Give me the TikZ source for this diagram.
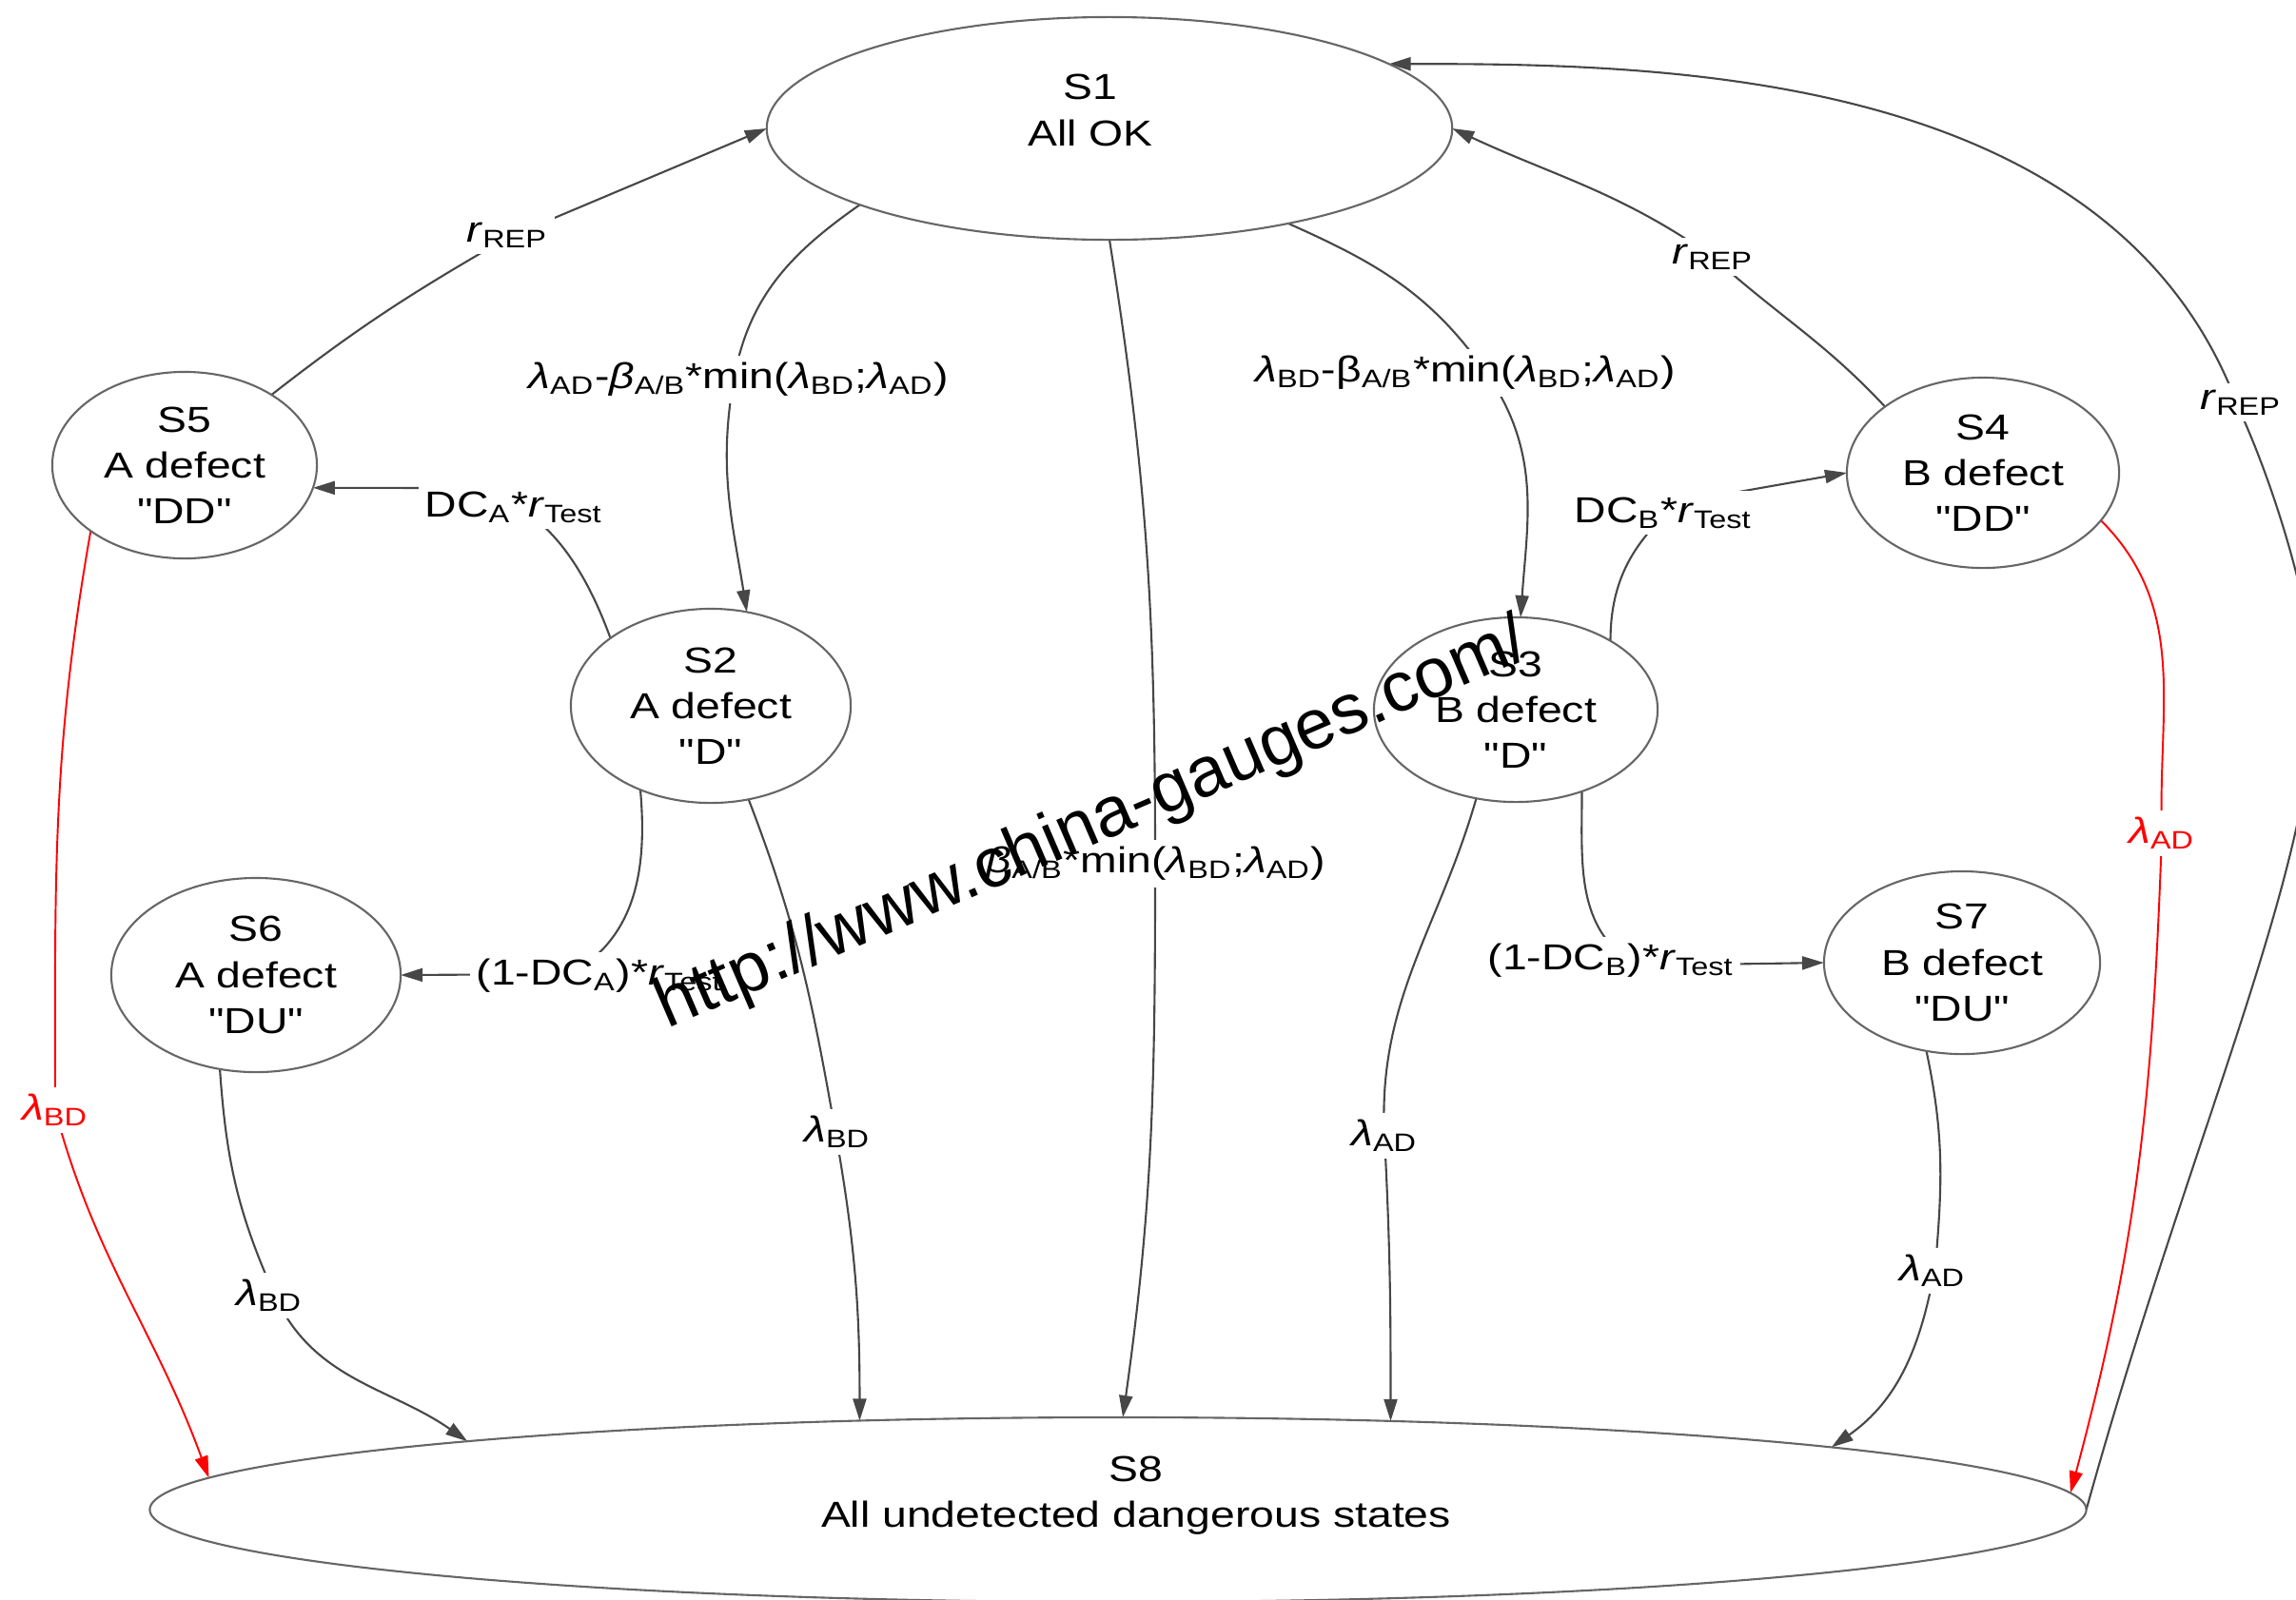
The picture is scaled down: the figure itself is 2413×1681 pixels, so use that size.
\documentclass[tikz,border=0pt]{standalone}
\usepackage{fontspec}
\setmainfont{Liberation Sans}[FakeStretch=1.22]
\newfontfamily\qfont{Liberation Sans}[FakeStretch=1.22, Ligatures=TeXOff]
\newfontfamily\wmfont{Liberation Sans}
\usetikzlibrary{arrows.meta,shapes.geometric}
\pgfdeclarelayer{edgelayer}
\pgfsetlayers{edgelayer,main}
\newcommand{\lm}{\textit{λ}}
\newcommand{\rt}{\textit{r}}
\newcommand{\sbx}[1]{\textsubscript{#1}}
\newcommand{\dq}{{\qfont\symbol{34}}}
\begin{document}
\begin{tikzpicture}[x=0.01cm,y=0.01cm,
 every node/.style={font=\fontsize{10.8}{13.7}\selectfont, inner sep=0pt, outer sep=0pt},
 stnode/.style={ellipse, draw=black!60, line width=0.6pt, align=center},
 lab/.style={fill=white, inner sep=2pt},
 conn/.style={draw=black!72, line width=0.6pt, -{Triangle[length=0.23cm,width=0.14cm]}},
 rconn/.style={draw=red, line width=0.55pt, -{Triangle[length=0.23cm,width=0.14cm]}},
]
\useasboundingbox (0,0) rectangle (2413,-1681);
\clip (0,0) rectangle (2413,-1681);

% states
\node[stnode, minimum width=7.2cm, minimum height=2.34cm] (s1) at (1166,-135) {};
\node[align=center] (s1t) at (1146,-116) {S1\\All OK};
\node[stnode, minimum width=2.94cm, minimum height=2.04cm] (s2) at (747,-742) {S2\\A defect\\\dq D\dq};
\node[stnode, minimum width=2.98cm, minimum height=1.94cm] (s3) at (1593,-746) {S3\\B defect\\\dq D\dq};
\node[stnode, minimum width=2.86cm, minimum height=2.00cm] (s4) at (2084,-497) {S4\\B defect\\\dq DD\dq};
\node[stnode, minimum width=2.78cm, minimum height=1.96cm] (s5) at (194,-489) {S5\\A defect\\\dq DD\dq};
\node[stnode, minimum width=3.04cm, minimum height=2.04cm] (s6) at (269,-1025) {S6\\A defect\\\dq DU\dq};
\node[stnode, minimum width=2.90cm, minimum height=1.92cm] (s7) at (2062,-1012) {S7\\B defect\\\dq DU\dq};
\node[stnode, minimum width=20.34cm, minimum height=1.94cm] (s8) at (1175,-1587) {};
\node[align=center] (s8t) at (1194,-1572) {S8\\All undetected dangerous states};

% connectors (behind the labels)
\begin{pgfonlayer}{edgelayer}
\clip (0,0) rectangle (2413,-1681);
\coordinate (v1) at (533,-250);
\coordinate (v2) at (771,-400);
\coordinate (v3) at (1214,-908);
\coordinate (v4) at (1562,-392);
\coordinate (v5) at (1800,-270);
\coordinate (v6) at (2353,-430);
\coordinate (v7) at (470,-513);
\coordinate (v8) at (600,-1024);
\coordinate (v9) at (878,-1190);
\coordinate (v10) at (288,-1360);
\coordinate (v11) at (58,-1167);
\coordinate (v12) at (1720,-1015);
\coordinate (v13) at (1455,-1195);
\coordinate (v14) at (2034,-1330);
\coordinate (v15) at (1765,-528);
\coordinate (v16) at (2272,-876);
\draw[conn] (s5.39) to[out=38, in=-150] (v1) -- (s1.180);
\draw[conn] (s1.197.7) to[out=215, in=80] (v2) to[out=-100, in=99] (s2.69);
\draw[conn] (s1.270) to[out=-81, in=90] (v3) to[out=-90, in=82] (s8.87);
\draw[conn] (s1.332) to[out=-24, in=125] (v4) to[out=-55, in=86] (s3.87);
\draw[conn] (s4.146) to[out=133, in=-42] (v5) to[out=145, in=-25] (s1.0);
\draw[conn] (s8.0) .. controls (2300,-1200) and (2430,-920) .. (2432,-730)
  .. controls (2434,-650) and (2390,-510) .. (v6)
  .. controls (2223,-73) and (1747,-67) .. (s1.13);
\draw[conn] (s2.146) to[out=110, in=0] (v7) -- (s5.350);
\draw[conn] (s2.230) to[out=-85, in=30] (v8) -- (s6.0);
\draw[conn] (s2.292) to[out=-69, in=100] (v9) to[out=-80, in=90] (s8.161.57);
\draw[conn] (s6.249) to[out=-86, in=114] (v10) to[out=-66, in=145] (s8.174.68);
\draw[rconn] (s5.215) to[out=-100, in=90] (v11) to[out=-75, in=110] (s8.178.32);
\draw[conn] (s3.309.5) to[out=-90, in=150] (v12) -- (s7.180);
\draw[conn] (s3.246) to[out=-106, in=93] (v13) to[out=-87, in=90] (s8.18.89);
\draw[conn] (s7.248) to[out=-78, in=85] (v14) to[out=-100, in=35] (s8.5.71);
\draw[conn] (s3.36) to[out=90, in=-140] (v15) -- (s4.180);
\draw[rconn] (s4.338) to[out=-45, in=92] (v16) to[out=-92, in=75] (s8.1.58);
\end{pgfonlayer}

% labels
\node[lab] (l1) at (533,-247) {\rt\sbx{REP}};
\node[lab] (l2) at (776,-399) {\lm\sbx{AD}-\textit{β}\sbx{A/B}*min(\lm\sbx{BD};\lm\sbx{AD})};
\node[lab] (l3) at (1215,-908) {\textit{β}\sbx{A/B}*min(\lm\sbx{BD};\lm\sbx{AD})};
\node[lab] (l4) at (1540,-392) {\lm\sbx{BD}-β\sbx{A/B}*min(\lm\sbx{BD};\lm\sbx{AD})};
\node[lab] (l5) at (1800,-270) {\rt\sbx{REP}};
\node[lab] (l6) at (2355,-423) {\rt\sbx{REP}};
\node[lab] (l7) at (540,-533) {DC\sbx{A}*\rt\sbx{Test}};
\node[lab] (l8) at (630,-1026) {(1-DC\sbx{A})*\rt\sbx{Test}};
\node[lab] (l9) at (880,-1190) {\lm\sbx{BD}};
\node[lab] (l10) at (283,-1362) {\lm\sbx{BD}};
\node[lab, text=red] (l11) at (58,-1167) {\lm\sbx{BD}};
\node[lab] (l12) at (1693,-1010) {(1-DC\sbx{B})*\rt\sbx{Test}};
\node[lab] (l13) at (1455,-1194) {\lm\sbx{AD}};
\node[lab] (l14) at (2031,-1336) {\lm\sbx{AD}};
\node[lab] (l15) at (1748,-539) {DC\sbx{B}*\rt\sbx{Test}};
\node[lab, text=red] (l16) at (2272,-876) {\lm\sbx{AD}};

% watermark
\node[font=\wmfont\fontsize{21.1}{25}\selectfont, rotate=23.3, anchor=base] (wm) at (1156,-886) {http://www.china-gauges.com/};
\end{tikzpicture}
\end{document}
